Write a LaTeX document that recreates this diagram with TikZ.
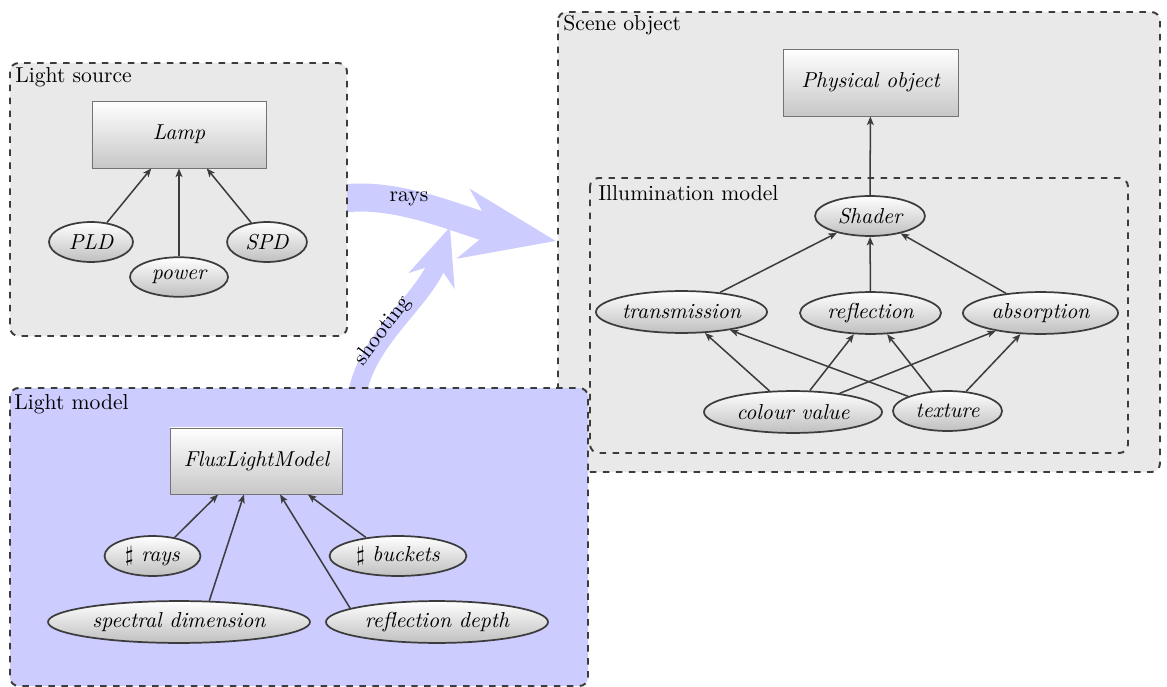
\documentclass[tikz,border=0pt]{standalone}
\usetikzlibrary{shapes.geometric,arrows.meta,bending}

\definecolor{groupgray}{HTML}{E9E9E9}
\definecolor{lightblue}{HTML}{CCCCFF}
\definecolor{edgegray}{HTML}{3C3C3C}

\tikzset{
  group/.style={draw=edgegray, dashed, line width=0.9pt, rounded corners=4pt},
  grouplabel/.style={anchor=west, inner sep=0pt},
  classbox/.style={rectangle, draw=black!55, line width=0.4pt, top color=white,
                   bottom color=black!22, inner sep=0pt, font=\itshape},
  attr/.style={ellipse, draw=edgegray, line width=0.8pt, top color=white,
               bottom color=black!25, inner sep=0pt, font=\itshape},
  link/.style={draw=edgegray, line width=0.7pt, -{Stealth[length=4pt,width=3.2pt,inset=1pt]}},
  flow/.style={draw=lightblue, line cap=butt},
}

\begin{document}
\begin{tikzpicture}[x=0.463pt, y=-0.463pt]
\useasboundingbox (0,0) rectangle (1167,687);

% broad flow arrows
\draw[flow, line width=13pt, -{Stealth[length=43pt,width=32pt,inset=13pt,quick]}]
  (340,199) .. controls (400,190) and (470,225) .. (556,241);
\draw[flow, line width=8.5pt, -{Stealth[length=26pt,width=22pt,inset=8pt,quick]}]
  (357,396) .. controls (365,340) and (425,300) .. (450,227);
\node (raysLbl) at (409,199) {rays};
\node[rotate=53] (shootLbl) at (383,331) {shooting};

% scene object group
\filldraw[group, fill=groupgray] (558,12) rectangle (1160,472);
\node[grouplabel] (sceneLbl) at (563,25) {Scene object};
\filldraw[group, fill=groupgray] (590,178) rectangle (1128,453);
\node[grouplabel] (illumLbl) at (598,193) {Illumination model};

% light source group
\filldraw[group, fill=groupgray] (10,63) rectangle (347,336);
\node[grouplabel] (sourceLbl) at (15,77) {Light source};

% light model group
\filldraw[group, fill=lightblue] (10,388) rectangle (588,686);
\node[grouplabel] (modelLbl) at (14,404) {Light model};

% light source
\node[classbox, minimum width=80.6pt, minimum height=31pt] (lamp) at (179,134.5) {Lamp};
\node[attr, minimum width=38.9pt, minimum height=18.5pt] (pld) at (91,242) {PLD};
\node[attr, minimum width=45.4pt, minimum height=18.3pt] (power) at (179,277) {power};
\node[attr, minimum width=37pt, minimum height=18.5pt] (spd) at (267,242) {SPD};
\draw[link] (pld) -- (lamp);
\draw[link] (power) -- (lamp);
\draw[link] (spd) -- (lamp);

% light model
\node[classbox, minimum width=80pt, minimum height=30.6pt] (flux) at (256.5,461) {FluxLightModel};
\node[attr, minimum width=44.4pt, minimum height=18.5pt] (nrays) at (152.5,556) {$\sharp$ rays};
\node[attr, minimum width=63.4pt, minimum height=18.5pt] (nbuckets) at (398,556) {$\sharp$ buckets};
\node[attr, minimum width=121.3pt, minimum height=19.4pt] (spectral) at (179,622) {spectral dimension};
\node[attr, minimum width=102.8pt, minimum height=19.4pt] (depth) at (437,622) {reflection depth};
\draw[link] (nrays.40) -- ([xshift=-17.8pt]flux.south);
\draw[link] (spectral.35) -- ([xshift=-5.8pt]flux.south);
\draw[link] (depth.171) -- ([xshift=10.9pt]flux.south);
\draw[link] (nbuckets.150) -- ([xshift=23.8pt]flux.south);

% scene object
\node[classbox, minimum width=81pt, minimum height=31pt] (phys) at (870.5,82.5) {Physical object};
\node[attr, minimum width=50.9pt, minimum height=18.5pt] (shader) at (870,216) {Shader};
\node[attr, minimum width=79.2pt, minimum height=19.4pt] (trans) at (681.5,312) {transmission};
\node[attr, minimum width=65.3pt, minimum height=19.4pt] (refl) at (870.5,313) {reflection};
\node[attr, minimum width=71.8pt, minimum height=19.4pt] (absorb) at (1040.5,313) {absorption};
\node[attr, minimum width=82.4pt, minimum height=19.4pt] (colour) at (793,412) {colour value};
\node[attr, minimum width=50.5pt, minimum height=18.5pt] (texture) at (947.5,411) {texture};
\draw[link] (shader) -- (phys);
\draw[link] (trans) -- (shader);
\draw[link] (refl) -- (shader);
\draw[link] (absorb) -- (shader);
\draw[link] (colour) -- (trans);
\draw[link] (colour) -- (refl);
\draw[link] (colour) -- (absorb);
\draw[link] (texture) -- (trans);
\draw[link] (texture) -- (refl);
\draw[link] (texture) -- (absorb);
\end{tikzpicture}
\end{document}
